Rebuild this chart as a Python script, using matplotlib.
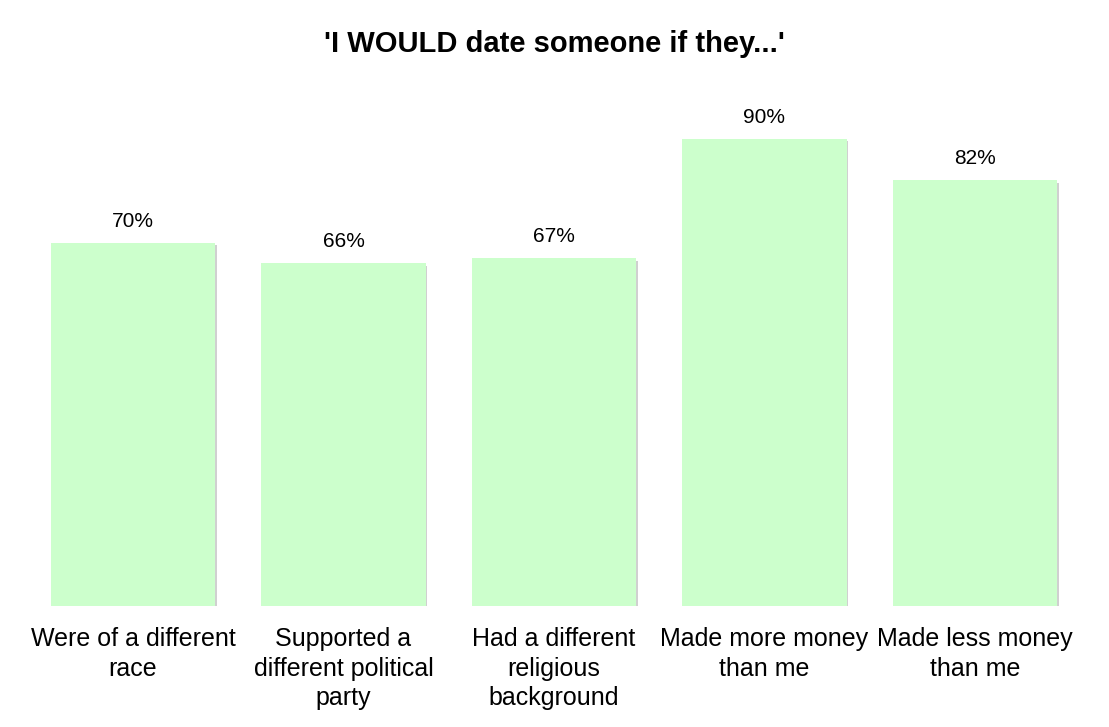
import matplotlib
matplotlib.use("Agg")
import matplotlib.pyplot as plt

categories = [
    "Were of a different\nrace",
    "Supported a\ndifferent political\nparty",
    "Had a different\nreligious\nbackground",
    "Made more money\nthan me",
    "Made less money\nthan me",
]
values = [70, 66, 67, 90, 82]
value_labels = ["70%", "66%", "67%", "90%", "82%"]

plt.rcParams["font.family"] = ["Liberation Sans", "DejaVu Sans"]

fig = plt.figure(figsize=(11.09, 7.27), dpi=100)
ax = fig.add_axes([0.025, 0.1664, 0.949, 0.714])

x = range(len(values))
# soft shadow behind the bars
ax.bar([i + 0.008 for i in x], values, width=0.78, bottom=-0.5,
       color="#d0d0d0", zorder=1)
ax.bar(x, values, width=0.78, color="#ccffcc", zorder=2)

for i, (v, lab) in enumerate(zip(values, value_labels)):
    ax.text(i, v + 2.3, lab, ha="center", va="bottom", fontsize=15)

ax.set_xlim(-0.5, len(values) - 0.5)
ax.set_ylim(0, 100)
ax.set_xticks(list(x))
ax.set_xticklabels(categories, fontsize=18, linespacing=1.3)
ax.tick_params(axis="x", length=0, pad=15)
ax.set_yticks([])
for s in ax.spines.values():
    s.set_visible(False)

fig.text(0.5, 0.94, "'I WOULD date someone if they...'", ha="center",
         va="center", fontsize=21, fontweight="bold")

fig.savefig("out.png", dpi=100)
